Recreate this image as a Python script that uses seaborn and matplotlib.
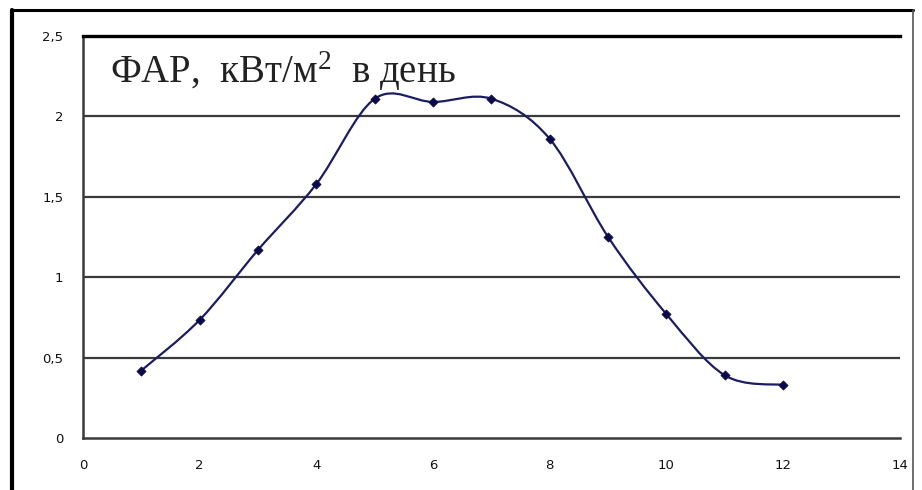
import numpy as np
import pandas as pd
import seaborn as sns
import matplotlib.pyplot as plt
from matplotlib.path import Path
from matplotlib.patches import PathPatch
from matplotlib.lines import Line2D
from matplotlib.ticker import FuncFormatter, MultipleLocator

# Данные: месяц и ФАР
months = [1, 2, 3, 4, 5, 6, 7, 8, 9, 10, 11, 12]
far = [0.42, 0.735, 1.17, 1.58, 2.11, 2.09, 2.11, 1.86, 1.25, 0.77, 0.39, 0.33]
title_text = r"ФАР,  кВт/м$^{2}$  в день"

df = pd.DataFrame({"month": months, "far": far})

sns.set_style("white")
plt.rcParams["font.family"] = ["DejaVu Sans"]
plt.rcParams["mathtext.fontset"] = "custom"
plt.rcParams["mathtext.rm"] = "Liberation Serif"
plt.rcParams["mathtext.it"] = "Liberation Serif"

fig = plt.figure(figsize=(9.22, 4.9), dpi=100)
ax = fig.add_axes([0.090, 0.106, 0.886, 0.8205])

line_col = "#1c1c64"

# сглаженная линия (как в Excel) — кривые Безье через точки
pts = np.column_stack([df["month"], df["far"]]).astype(float)
verts = [pts[0]]
codes = [Path.MOVETO]
n = len(pts)
for i in range(n - 1):
    p0 = pts[i - 1] if i > 0 else pts[i]
    p1 = pts[i]
    p2 = pts[i + 1]
    p3 = pts[i + 2] if i + 2 < n else pts[i + 1]
    c1 = p1 + (p2 - p0) / 6.0
    c2 = p2 - (p3 - p1) / 6.0
    verts += [c1, c2, p2]
    codes += [Path.CURVE4] * 3
ax.add_patch(PathPatch(Path(verts, codes), fill=False, edgecolor=line_col, lw=1.6, zorder=3))

sns.scatterplot(data=df, x="month", y="far", marker="D", s=22, color="#0a0a4a",
                edgecolor="#0a0a4a", linewidth=0.5, ax=ax, zorder=4)

ax.set_xlim(0, 14)
ax.set_ylim(0, 2.5)
ax.xaxis.set_major_locator(MultipleLocator(2))
ax.yaxis.set_major_locator(MultipleLocator(0.5))
fmt = FuncFormatter(lambda v, p: f"{v:g}".replace(".", ","))
ax.xaxis.set_major_formatter(fmt)
ax.yaxis.set_major_formatter(fmt)
ax.set_xlabel("")
ax.set_ylabel("")

for yv in [0.5, 1.0, 1.5, 2.0]:
    ax.axhline(yv, color="#3a3a3a", lw=1.6, zorder=1)

ax.spines["right"].set_visible(False)
ax.spines["top"].set_color("black")
ax.spines["top"].set_linewidth(2.4)
ax.spines["left"].set_color("#3a3a3a")
ax.spines["left"].set_linewidth(1.8)
ax.spines["bottom"].set_color("#3a3a3a")
ax.spines["bottom"].set_linewidth(1.8)

ax.tick_params(axis="both", direction="out", length=4.5, width=1.2, color="#3a3a3a",
               labelsize=9.5, labelcolor="#111111")
ax.tick_params(axis="y", pad=9.5)
ax.tick_params(axis="x", pad=10.5)

# подпись внутри поля графика
ax.text(0.46, 2.21, title_text, fontsize=28, family="Liberation Serif",
        color="#222222", va="baseline", ha="left", zorder=5)

# рамка диаграммы
fig.add_artist(Line2D([0.013, 0.013], [0.0, 0.98], transform=fig.transFigure, color="black", lw=3))
fig.add_artist(Line2D([0.013, 0.99], [0.98, 0.98], transform=fig.transFigure, color="black", lw=2.2))
fig.add_artist(Line2D([0.99, 0.99], [0.0, 0.98], transform=fig.transFigure, color="#555555", lw=1.2))

fig.savefig("out.png", dpi=100)
